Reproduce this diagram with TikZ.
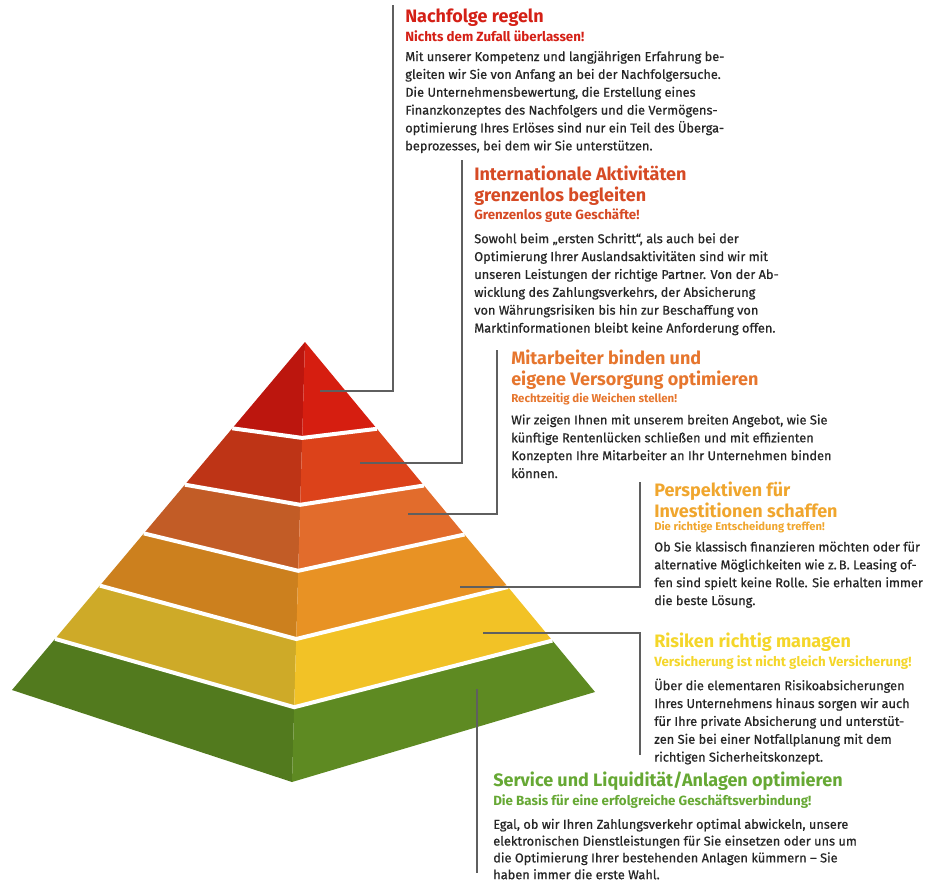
\documentclass[tikz,border=0pt]{standalone}
\usepackage{fontspec}
\setmainfont{Fira Sans}
\newfontfamily\bodyfont{Fira Sans}[FakeBold=0.7,Ligatures=TeX]
\usetikzlibrary{calc}

\definecolor{lf1}{RGB}{188,22,14}
\definecolor{rf1}{RGB}{214,30,16}
\definecolor{lf2}{RGB}{190,52,22}
\definecolor{rf2}{RGB}{220,66,26}
\definecolor{lf3}{RGB}{194,92,38}
\definecolor{rf3}{RGB}{226,108,44}
\definecolor{lf4}{RGB}{204,128,30}
\definecolor{rf4}{RGB}{232,146,36}
\definecolor{lf5}{RGB}{206,170,40}
\definecolor{rf5}{RGB}{242,194,38}
\definecolor{lf6}{RGB}{82,122,30}
\definecolor{rf6}{RGB}{94,138,34}
\definecolor{tc1}{RGB}{212,32,22}
\definecolor{tc2}{RGB}{214,74,36}
\definecolor{tc3}{RGB}{230,118,46}
\definecolor{tc4}{RGB}{240,166,46}
\definecolor{tc5}{RGB}{244,214,42}
\definecolor{tc6}{RGB}{102,168,52}
\definecolor{bodygray}{RGB}{38,38,38}
\definecolor{leadgray}{RGB}{95,95,95}

\begin{document}
\begin{tikzpicture}[x=0.75pt,y=-0.75pt,
  title/.style={anchor=north west,inner sep=0pt,align=left,font=\bfseries\fontsize{13.5}{15.5}\selectfont},
  sub/.style={anchor=north west,inner sep=0pt,align=left,font=\bfseries\fontsize{10}{12}\selectfont},
  body/.style={anchor=north west,inner sep=0pt,align=left,text=bodygray,font=\bodyfont\fontsize{9.6}{13.4}\selectfont},
  lead/.style={draw=leadgray,line width=0.9pt}]
\useasboundingbox (0,0) rectangle (931,881);

\coordinate (A) at (305,342);
\coordinate (L) at (12,690);
\coordinate (B) at (292,782);
\coordinate (R) at (595,692);
\foreach \ta/\ca/\tb/\cb/\n in {0/0/0.248/0.218/1,0.248/0.218/0.41/0.37/2,0.41/0.37/0.55/0.52/3,0.55/0.52/0.70/0.675/4,0.70/0.675/0.853/0.83/5,0.853/0.83/1/1/6}{
  \fill[lf\n] ($(A)!\ta!(L)$) -- ($(A)!\ca!(B)$) -- ($(A)!\cb!(B)$) -- ($(A)!\tb!(L)$) -- cycle;
  \fill[rf\n] ($(A)!\ca!(B)$) -- ($(A)!\ta!(R)$) -- ($(A)!\tb!(R)$) -- ($(A)!\cb!(B)$) -- cycle;
}
\foreach \t/\c in {0.248/0.218,0.41/0.37,0.55/0.52,0.70/0.675,0.853/0.83}
  \draw[white,line width=3pt] ($(A)!\t!(L)$) -- ($(A)!\c!(B)$) -- ($(A)!\t!(R)$);

\node[title,text=tc1] (t1) at (405,9) {Nachfolge regeln};
\node[sub,text=tc1] (s1) at ($(t1.south west)+(0,3)$) {Nichts dem Zufall überlassen!};
\node[body] (b1) at ($(s1.south west)+(0,9)$) {Mit unserer Kompetenz und langjährigen Erfahrung be-\\gleiten wir Sie von Anfang an bei der Nachfolgersuche.\\Die Unternehmensbewertung, die Erstellung eines\\Finanzkonzeptes des Nachfolgers und die Vermögens-\\optimierung Ihres Erlöses sind nur ein Teil des Überga-\\beprozesses, bei dem wir Sie unterstützen.};

\node[title,text=tc2] (t2) at (474,166) {Internationale Aktivitäten\\grenzenlos begleiten};
\node[sub,text=tc2] (s2) at ($(t2.south west)+(0,3)$) {Grenzenlos gute Geschäfte!};
\node[body] (b2) at ($(s2.south west)+(0,10)$) {Sowohl beim „ersten Schritt“, als auch bei der\\Optimierung Ihrer Auslandsaktivitäten sind wir mit\\unseren Leistungen der richtige Partner. Von der Ab-\\wicklung des Zahlungsverkehrs, der Absicherung\\von Währungsrisiken bis hin zur Beschaffung von\\Marktinformationen bleibt keine Anforderung offen.};

\node[title,text=tc3] (t3) at (511,350) {Mitarbeiter binden und\\eigene Versorgung optimieren};
\node[sub,text=tc3,font=\bfseries\fontsize{8.6}{10}\selectfont] (s3) at ($(t3.south west)+(0,3)$) {Rechtzeitig die Weichen stellen!};
\node[body] (b3) at ($(s3.south west)+(0,9)$) {Wir zeigen Ihnen mit unserem breiten Angebot, wie Sie\\künftige Rentenlücken schließen und mit effizienten\\Konzepten Ihre Mitarbeiter an Ihr Unternehmen binden\\können.};

\node[title,text=tc4] (t4) at (654,482) {Perspektiven für\\Investitionen schaffen};
\node[sub,text=tc4,font=\bfseries\fontsize{8.4}{10}\selectfont] (s4) at ($(t4.south west)+(0,3)$) {Die richtige Entscheidung treffen!};
\node[body] (b4) at ($(s4.south west)+(0,8)$) {Ob Sie klassisch finanzieren möchten oder für\\alternative Möglichkeiten wie z.\,B. Leasing of-\\fen sind spielt keine Rolle. Sie erhalten immer\\die beste Lösung.};

\node[title,text=tc5] (t5) at (654,633) {Risiken richtig managen};
\node[sub,text=tc5] (s5) at ($(t5.south west)+(0,3)$) {Versicherung ist nicht gleich Versicherung!};
\node[body] (b5) at ($(s5.south west)+(0,9)$) {Über die elementaren Risikoabsicherungen\\Ihres Unternehmens hinaus sorgen wir auch\\für Ihre private Absicherung und unterstüt-\\zen Sie bei einer Notfallplanung mit dem\\richtigen Sicherheitskonzept.};

\node[title,text=tc6] (t6) at (493,772) {Service und Liquidität/Anlagen optimieren};
\node[sub,text=tc6] (s6) at ($(t6.south west)+(0,3)$) {Die Basis für eine erfolgreiche Geschäftsverbindung!};
\node[body,font=\bodyfont\fontsize{9.6}{12.6}\selectfont] (b6) at ($(s6.south west)+(0,10)$) {Egal, ob wir Ihren Zahlungsverkehr optimal abwickeln, unsere\\elektronischen Dienstleistungen für Sie einsetzen oder uns um\\die Optimierung Ihrer bestehenden Anlagen kümmern – Sie\\haben immer die erste Wahl.};

\coordinate (p1) at (320,391);
\coordinate (p2) at (360,463);
\coordinate (p3) at (408,514);
\coordinate (p4) at (460,587);
\coordinate (p5) at (483,633);
\coordinate (p6) at (477,689);
\coordinate (c1) at (393,5);
\coordinate (c2) at (462,160);
\coordinate (c3) at (497,350);
\coordinate (c4) at (640,482);
\coordinate (c5) at (640,755);
\coordinate (c6) at (477,873);
\draw[lead] (p1) -| (c1);
\draw[lead] (p2) -| (c2);
\draw[lead] (p3) -| (c3);
\draw[lead] (p4) -| (c4);
\draw[lead] (p5) -| (c5);
\draw[lead] (p6) -- (c6);
\end{tikzpicture}
\end{document}
